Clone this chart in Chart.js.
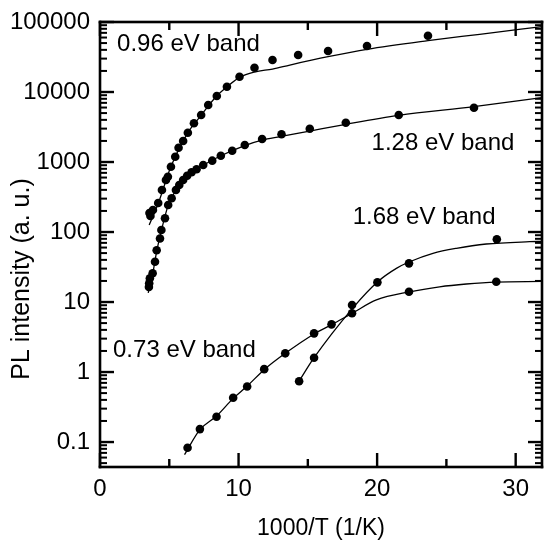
<!DOCTYPE html>
<html>
<head>
<meta charset="utf-8">
<script src="https://cdn.jsdelivr.net/npm/chart.js@4.4.1/dist/chart.umd.min.js"></script>
<style>
  html, body { margin: 0; padding: 0; background: #fff; }
  #wrap { width: 548px; height: 544px; }
</style>
</head>
<body>
<div id="wrap"><canvas id="pl-chart"></canvas></div>
<script>
// values: x = 1000/T (1/K), y = PL intensity (a. u.)
const band096X = [3.57, 3.64, 3.82, 4.20, 4.47, 4.76, 4.90, 5.12, 5.43, 5.67, 6.00, 6.34, 6.78, 7.30, 7.81, 8.43, 9.16, 10.07, 11.15, 12.45, 14.30, 16.46, 19.27, 23.67];
const band096Y = [187, 169, 206, 260, 398, 553, 617, 857, 1190, 1600, 2000, 2620, 3570, 4690, 6520, 8770, 11900, 16550, 22200, 28650, 33800, 38500, 45400, 63700];
const fit096X = [3.55, 4.2, 5.1, 6.3, 7.3, 8.4, 9.2, 10.1, 11.15, 12.45, 13.7, 16.46, 19.27, 23.67, 27.4, 31.9];
const fit096Y = [126, 255, 840, 2550, 4650, 8700, 12000, 16300, 19300, 21300, 24300, 31900, 40700, 54100, 66700, 86000];

const band128X = [3.53, 3.55, 3.60, 3.80, 3.97, 4.09, 4.33, 4.43, 4.69, 4.92, 5.17, 5.48, 5.72, 6.00, 6.29, 6.61, 6.97, 7.45, 8.10, 8.72, 9.54, 10.45, 11.70, 13.10, 15.14, 17.74, 21.56, 26.99];
const band128Y = [16.4, 18.5, 21.8, 25.7, 37.7, 55, 81, 107, 157, 243, 303, 398, 469, 553, 637, 713, 787, 906, 1045, 1230, 1450, 1750, 2130, 2490, 2990, 3640, 4690, 5970];
const fit128X = [3.48, 3.8, 4.09, 4.43, 4.92, 5.48, 6.29, 7.45, 8.72, 10.45, 11.7, 12.98, 15.14, 17.74, 21.56, 26.99, 31.9];
const fit128Y = [13.5, 25, 53, 105, 240, 395, 630, 900, 1230, 1720, 2050, 2300, 2770, 3460, 4640, 6170, 8300];

const band168X = [14.37, 15.45, 18.19, 20.02, 22.30, 28.64];
const band168Y = [0.74, 1.60, 9.06, 19.1, 35.7, 78.7];
const fit168X = [14.37, 15.45, 18.24, 20.04, 21.39, 22.35, 24.03, 25.72, 27.88, 31.0, 31.9];
const fit168Y = [0.74, 1.6, 8.2, 19.5, 30.3, 37.6, 49.6, 58.5, 67.4, 72.7, 73.5];

const band073X = [6.32, 7.21, 8.41, 9.61, 10.62, 11.85, 13.37, 15.45, 16.71, 18.19, 22.30, 28.60];
const band073Y = [0.083, 0.153, 0.23, 0.43, 0.62, 1.10, 1.85, 3.57, 4.80, 6.9, 14.0, 19.5];
const fit073X = [6.1, 7.21, 8.41, 9.61, 10.62, 11.85, 13.37, 15.45, 16.71, 18.19, 19.95, 22.35, 24.51, 26.44, 28.6, 31.9];
const fit073Y = [0.066, 0.15, 0.235, 0.42, 0.63, 1.08, 1.85, 3.5, 4.75, 6.9, 10.7, 14.0, 16.5, 18.1, 19.3, 19.7];

const xTicks = [0, 10, 20, 30];
const xMinorTicks = [5, 15, 25];
const yTicks = [0.1, 1, 10, 100, 1000, 10000, 100000];
const yMinorTicks = [0.05, 0.06, 0.07, 0.08, 0.09,
  0.2, 0.3, 0.4, 0.5, 0.6, 0.7, 0.8, 0.9,
  2, 3, 4, 5, 6, 7, 8, 9,
  20, 30, 40, 50, 60, 70, 80, 90,
  200, 300, 400, 500, 600, 700, 800, 900,
  2000, 3000, 4000, 5000, 6000, 7000, 8000, 9000,
  20000, 30000, 40000, 50000, 60000, 70000, 80000, 90000];

const bandNames = ['0.96 eV band', '1.28 eV band', '1.68 eV band', '0.73 eV band'];
// where each band name sits, in data coordinates (left edge, middle)
const bandNameX = [1.23, 19.6, 18.24, 0.94];
const bandNameY = [48500, 1870, 164, 2.06];

const FONT = "'Liberation Sans', Arial, sans-serif";

function pairs(xs, ys) {
  return xs.map((x, i) => ({ x: x, y: ys[i] }));
}

function fitLine(xs, ys) {
  return {
    data: pairs(xs, ys),
    showLine: true,
    borderColor: '#000',
    borderWidth: 1.3,
    pointRadius: 0,
    fill: false,
    cubicInterpolationMode: 'monotone'
  };
}

function dots(xs, ys) {
  return {
    data: pairs(xs, ys),
    showLine: false,
    pointRadius: 4.3,
    pointBackgroundColor: '#000',
    pointBorderColor: '#000',
    pointBorderWidth: 0
  };
}

// frame and inward ticks on all four sides
const framePlugin = {
  id: 'framePlugin',
  afterDatasetsDraw(chart) {
    const ctx = chart.ctx;
    const area = chart.chartArea;
    const xs = chart.scales.x;
    const ys = chart.scales.y;
    const L = area.left, R = area.right, T = area.top, B = area.bottom;
    ctx.save();
    ctx.fillStyle = '#000';

    xTicks.forEach(v => {
      const px = xs.getPixelForValue(v);
      ctx.fillRect(px - 1.2, B - 14, 2.4, 14);
      ctx.fillRect(px - 1.2, T, 2.4, 14);
    });
    xMinorTicks.forEach(v => {
      const px = xs.getPixelForValue(v);
      ctx.fillRect(px - 1.2, B - 8, 2.4, 8);
      ctx.fillRect(px - 1.2, T, 2.4, 8);
    });
    yTicks.forEach(v => {
      const py = ys.getPixelForValue(v);
      ctx.fillRect(L, py - 1.2, 14, 2.4);
      ctx.fillRect(R - 14, py - 1.2, 14, 2.4);
    });
    yMinorTicks.forEach(v => {
      const py = ys.getPixelForValue(v);
      ctx.fillRect(L, py - 1, 7, 2);
      ctx.fillRect(R - 7, py - 1, 7, 2);
    });

    ctx.fillRect(L - 1.3, T - 1.3, R - L + 2.6, 2.6);
    ctx.fillRect(L - 1.3, B - 1.3, R - L + 2.6, 2.6);
    ctx.fillRect(L - 1.3, T - 1.3, 2.6, B - T + 2.6);
    ctx.fillRect(R - 1.3, T - 1.3, 2.6, B - T + 2.6);
    ctx.restore();
  },
  // band names and the y title
  afterDraw(chart) {
    const ctx = chart.ctx;
    const xs = chart.scales.x;
    const ys = chart.scales.y;
    ctx.save();
    ctx.fillStyle = '#000';
    ctx.font = '24px ' + FONT;
    ctx.textAlign = 'left';
    ctx.textBaseline = 'middle';
    bandNames.forEach((t, i) => {
      ctx.fillText(t, xs.getPixelForValue(bandNameX[i]), ys.getPixelForValue(bandNameY[i]));
    });

    ctx.font = '25px ' + FONT;
    ctx.textAlign = 'center';
    ctx.translate(22, 279);
    ctx.rotate(-Math.PI / 2);
    ctx.fillText('PL intensity (a. u.)', 0, 0);
    ctx.restore();
  }
};

new Chart(document.getElementById('pl-chart').getContext('2d'), {
  type: 'scatter',
  data: {
    datasets: [
      fitLine(fit096X, fit096Y),
      fitLine(fit128X, fit128Y),
      fitLine(fit168X, fit168Y),
      fitLine(fit073X, fit073Y),
      dots(band096X, band096Y),
      dots(band128X, band128Y),
      dots(band168X, band168Y),
      dots(band073X, band073Y)
    ]
  },
  options: {
    responsive: true,
    maintainAspectRatio: false,
    animation: false,
    layout: { padding: { top: 22, right: 6, left: 0, bottom: 0 } },
    plugins: { legend: { display: false }, tooltip: { enabled: false } },
    scales: {
      x: {
        type: 'linear',
        min: 0,
        max: 31.9,
        grid: { display: false, drawTicks: false },
        border: { display: false },
        afterBuildTicks: s => { s.ticks = xTicks.map(v => ({ value: v })); },
        afterFit: s => { s.height = 77; s.paddingLeft = 0; s.paddingRight = 0; },
        ticks: { color: '#000', font: { family: FONT, size: 24 }, padding: 8, maxRotation: 0, callback: v => String(v) },
        title: { display: true, text: '1000/T (1/K)', color: '#000', font: { family: FONT, size: 23 }, padding: { top: 0, bottom: 2 } }
      },
      y: {
        type: 'logarithmic',
        min: 0.044,
        max: 100000,
        grid: { display: false, drawTicks: false },
        border: { display: false },
        afterBuildTicks: s => { s.ticks = yTicks.map(v => ({ value: v })); },
        afterFit: s => { s.width = 100; s.paddingTop = 0; s.paddingBottom = 0; },
        ticks: { color: '#000', font: { family: FONT, size: 24 }, padding: 10, callback: v => String(v) }
      }
    }
  },
  plugins: [framePlugin]
});
</script>
</body>
</html>
